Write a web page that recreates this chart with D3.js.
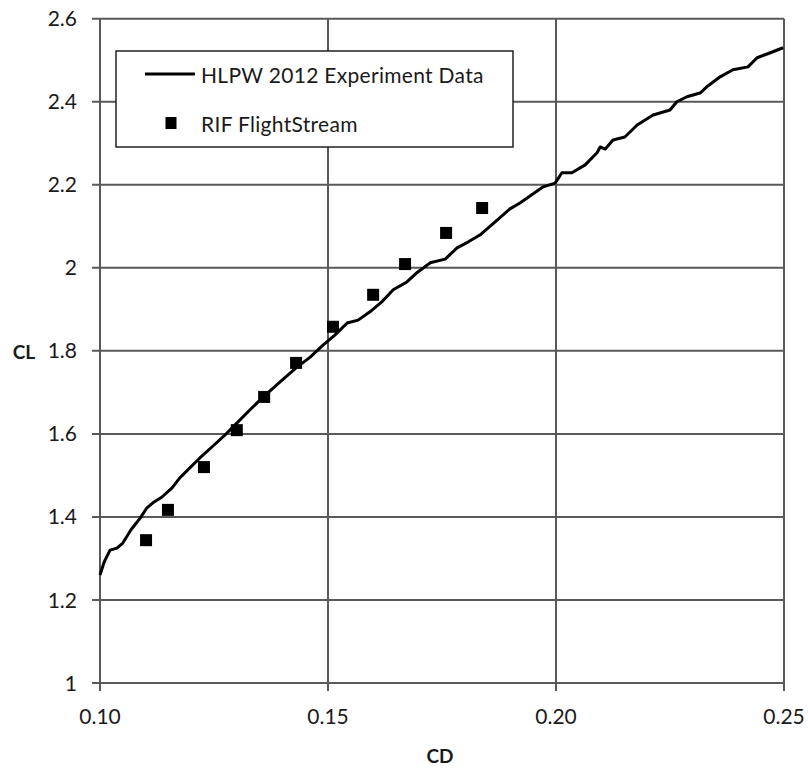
<!DOCTYPE html>
<html><head><meta charset="utf-8">
<script src="https://cdn.jsdelivr.net/npm/d3@7"></script>
<style>body{margin:0;background:#fff}svg{display:block}text{font-family:Lato,"Open Sans",sans-serif;fill:#1a1a1a}</style>
</head><body><svg id="c" width="808" height="769"></svg>
<script>
const xTicks = [0.10, 0.15, 0.20, 0.25];
const yTicks = [1, 1.2, 1.4, 1.6, 1.8, 2, 2.2, 2.4, 2.6];
const seriesNames = ["HLPW 2012 Experiment Data", "RIF FlightStream"];
const expCD = [0.1000,0.1009,0.1022,0.1037,0.1050,0.1068,0.1088,0.1103,0.1116,0.1136,0.1158,0.1175,0.1197,0.1219,0.1246,0.1272,0.1300,0.1329,0.1360,0.1395,0.1430,0.1461,0.1489,0.1515,0.1542,0.1566,0.1592,0.1618,0.1643,0.1673,0.1697,0.1724,0.1757,0.1783,0.1807,0.1833,0.1871,0.1899,0.1921,0.1943,0.1972,0.1998,0.2013,0.2035,0.2064,0.2090,0.2097,0.2108,0.2125,0.2151,0.2178,0.2213,0.2250,0.2265,0.2287,0.2316,0.2333,0.2360,0.2388,0.2421,0.2441,0.2463,0.2498];
const expCL = [1.260,1.291,1.320,1.325,1.337,1.369,1.397,1.422,1.434,1.448,1.470,1.494,1.518,1.542,1.569,1.595,1.626,1.658,1.691,1.725,1.759,1.785,1.814,1.838,1.867,1.874,1.894,1.918,1.947,1.966,1.990,2.012,2.021,2.048,2.062,2.079,2.115,2.142,2.156,2.173,2.195,2.204,2.229,2.229,2.248,2.277,2.291,2.286,2.308,2.315,2.344,2.368,2.380,2.400,2.412,2.421,2.438,2.460,2.477,2.484,2.506,2.515,2.530];
const rifCD = [0.1101,0.1149,0.1228,0.1300,0.1360,0.1430,0.1511,0.1599,0.1669,0.1759,0.1838];
const rifCL = [1.344,1.417,1.520,1.609,1.689,1.771,1.858,1.935,2.009,2.084,2.144];

const svg = d3.select("#c");
const L=100,R=784,T=18.7,B=683;
const x = d3.scaleLinear().domain([0.10,0.25]).range([L,R]);
const y = d3.scaleLinear().domain([1,2.6]).range([B,T]);
const gridC="#595959";

// grid
svg.append("g").selectAll("line").data(yTicks).join("line")
  .attr("x1",L-8).attr("x2",R).attr("y1",d=>y(d)).attr("y2",d=>y(d))
  .attr("stroke",gridC).attr("stroke-width",2);
svg.append("g").selectAll("line").data(xTicks).join("line")
  .attr("y1",T).attr("y2",B+8).attr("x1",d=>x(d)).attr("x2",d=>x(d))
  .attr("stroke",gridC).attr("stroke-width",2);

// tick labels
svg.append("g").selectAll("text").data(yTicks).join("text")
  .attr("x",77).attr("y",d=>y(d)).attr("dy","0.36em").attr("text-anchor","end")
  .attr("font-size",21).text(d=>d3.format("")(d));
svg.append("g").selectAll("text").data(xTicks).join("text")
  .attr("x",d=>x(d)).attr("y",724).attr("text-anchor","middle")
  .attr("font-size",21).text(d=>d3.format(".2f")(d));

// axis titles
svg.append("text").attr("x",24).attr("y",352).attr("dy","0.36em").attr("text-anchor","middle")
  .attr("font-size",19).attr("font-weight","bold").text("CL");
svg.append("text").attr("x",440).attr("y",763).attr("text-anchor","middle")
  .attr("font-size",19).attr("font-weight","bold").text("CD");

// curve
const exp = expCD.map((d,i)=>[d,expCL[i]]);
svg.append("path").datum(exp)
  .attr("d",d3.line().x(d=>x(d[0])).y(d=>y(d[1])))
  .attr("fill","none").attr("stroke","#000").attr("stroke-width",3).attr("stroke-linejoin","round");

// squares
const rif = rifCD.map((d,i)=>[d,rifCL[i]]);
const s=12;
svg.append("g").selectAll("rect").data(rif).join("rect")
  .attr("x",d=>x(d[0])-s/2).attr("y",d=>y(d[1])-s/2).attr("width",s).attr("height",s).attr("fill","#000");

// legend
const lg = svg.append("g");
lg.append("rect").attr("x",116).attr("y",51).attr("width",397).attr("height",96)
  .attr("fill","#fff").attr("stroke","#222").attr("stroke-width",1.5);
lg.append("line").attr("x1",145).attr("x2",195).attr("y1",74).attr("y2",74).attr("stroke","#000").attr("stroke-width",3);
lg.append("text").attr("x",201).attr("y",75).attr("dy","0.36em").attr("font-size",21).attr("letter-spacing",0.3).text(seriesNames[0]);
lg.append("rect").attr("x",171-5.5).attr("y",123-6).attr("width",11).attr("height",12).attr("fill","#000");
lg.append("text").attr("x",201).attr("y",124).attr("dy","0.36em").attr("font-size",21).attr("letter-spacing",0.3).text(seriesNames[1]);
</script></body></html>
